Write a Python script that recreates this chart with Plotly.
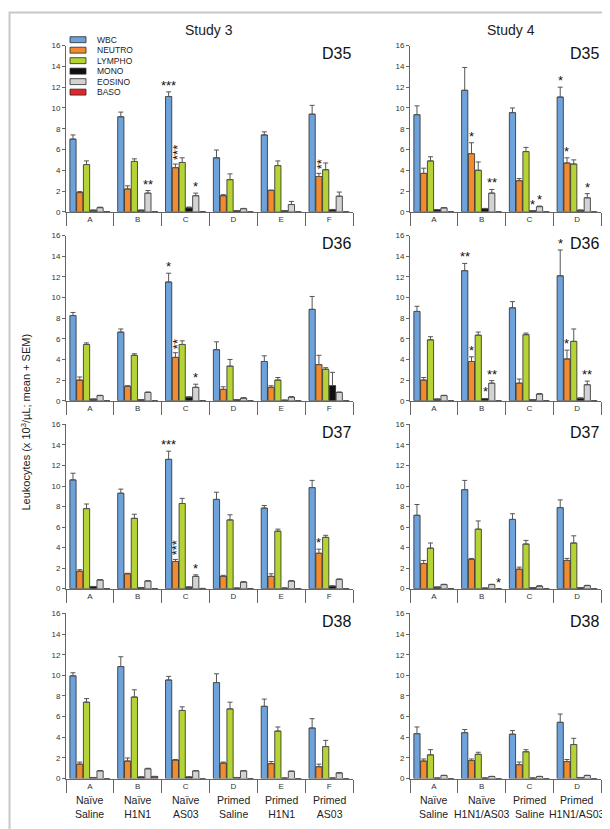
import plotly.graph_objects as go
from plotly.subplots import make_subplots

W, H = 610, 829
SERIES = ["WBC", "NEUTRO", "LYMPHO", "MONO", "EOSINO", "BASO"]
COLORS = ["#6ea2da", "#f28a2e", "#b5d334", "#111111", "#d3d3d3", "#e3262b"]
GROUPS_S3 = ["A", "B", "C", "D", "E", "F"]
GROUPS_S4 = ["A", "B", "C", "D"]
NAMES_S3 = ["Naïve<br>Saline", "Naïve<br>H1N1", "Naïve<br>AS03",
            "Primed<br>Saline", "Primed<br>H1N1", "Primed<br>AS03"]
NAMES_S4 = ["Naïve<br>Saline", "Naïve<br>H1N1/AS03", "Primed<br>Saline",
            "Primed<br>H1N1/AS03"]

# ---- Study 3 (rows: WBC, NEUTRO, LYMPHO, MONO, EOSINO, BASO) ----
S3_D35_MEAN = [[7.0, 9.15, 11.1, 5.2, 7.4, 9.4],
               [1.85, 2.2, 4.25, 1.55, 2.05, 3.4],
               [4.55, 4.85, 4.75, 3.1, 4.45, 4.05],
               [0.15, 0.15, 0.38, 0.1, 0.1, 0.2],
               [0.4, 1.8, 1.55, 0.3, 0.7, 1.5],
               [0.02, 0.02, 0.02, 0.0, 0.0, 0.0]]
S3_D35_SEM = [[0.4, 0.45, 0.45, 0.75, 0.3, 0.85],
              [0.1, 0.3, 0.35, 0.1, 0.05, 0.3],
              [0.35, 0.25, 0.45, 0.55, 0.45, 0.65],
              [0.02, 0.02, 0.08, 0.02, 0.02, 0.03],
              [0.05, 0.25, 0.25, 0.03, 0.3, 0.4],
              [0, 0, 0, 0, 0, 0]]
S3_D35_STARS = [("B", "EOSINO", "**", "h"), ("C", "WBC", "***", "h"),
                ("C", "NEUTRO", "***", "v"), ("C", "EOSINO", "*", "h"),
                ("F", "NEUTRO", "**", "v")]

S3_D36_MEAN = [[8.25, 6.65, 11.5, 4.95, 3.8, 8.85],
               [2.0, 1.4, 4.2, 1.1, 1.3, 3.5],
               [5.45, 4.4, 5.45, 3.35, 2.0, 3.05],
               [0.15, 0.1, 0.35, 0.1, 0.05, 1.47],
               [0.5, 0.8, 1.3, 0.25, 0.35, 0.8],
               [0.0, 0.0, 0.02, 0.0, 0.0, 0.0]]
S3_D36_SEM = [[0.3, 0.3, 0.85, 0.75, 0.55, 1.25],
              [0.3, 0.05, 0.45, 0.25, 0.15, 0.9],
              [0.15, 0.15, 0.35, 0.65, 0.25, 0.15],
              [0.02, 0.02, 0.03, 0.02, 0.01, 1.28],
              [0.03, 0.05, 0.3, 0.05, 0.05, 0.05],
              [0, 0, 0, 0, 0, 0]]
S3_D36_STARS = [("C", "WBC", "*", "h"), ("C", "NEUTRO", "**", "v"),
                ("C", "EOSINO", "*", "h")]

S3_D37_MEAN = [[10.6, 9.3, 12.6, 8.7, 7.85, 9.85],
               [1.7, 1.45, 2.65, 1.2, 1.2, 3.45],
               [7.8, 6.85, 8.3, 6.7, 5.6, 5.0],
               [0.2, 0.1, 0.15, 0.05, 0.05, 0.25],
               [0.85, 0.75, 1.2, 0.65, 0.75, 0.9],
               [0.0, 0.0, 0.02, 0.0, 0.0, 0.0]]
S3_D37_SEM = [[0.65, 0.4, 0.8, 0.7, 0.25, 0.7],
              [0.15, 0.05, 0.2, 0.1, 0.25, 0.4],
              [0.45, 0.4, 0.5, 0.5, 0.2, 0.2],
              [0.02, 0.02, 0.02, 0.01, 0.01, 0.03],
              [0.03, 0.03, 0.15, 0.03, 0.03, 0.05],
              [0, 0, 0, 0, 0, 0]]
S3_D37_STARS = [("C", "WBC", "***", "h"), ("C", "NEUTRO", "***", "v"),
                ("C", "EOSINO", "*", "h"), ("F", "NEUTRO", "*", "h")]

S3_D38_MEAN = [[9.95, 10.85, 9.55, 9.3, 7.0, 4.9],
               [1.4, 1.7, 1.8, 1.5, 1.45, 1.15],
               [7.4, 7.9, 6.6, 6.75, 4.6, 3.1],
               [0.1, 0.15, 0.15, 0.1, 0.05, 0.05],
               [0.75, 0.95, 0.75, 0.75, 0.7, 0.55],
               [0.0, 0.2, 0.0, 0.0, 0.0, 0.0]]
S3_D38_SEM = [[0.3, 0.95, 0.35, 0.85, 0.7, 0.9],
              [0.2, 0.3, 0.05, 0.1, 0.2, 0.25],
              [0.35, 0.7, 0.35, 0.65, 0.4, 0.6],
              [0.01, 0.02, 0.02, 0.01, 0.01, 0.01],
              [0.03, 0.05, 0.03, 0.03, 0.03, 0.03],
              [0, 0.02, 0, 0, 0, 0]]
S3_D38_STARS = []

# ---- Study 4 ----
S4_D35_MEAN = [[9.35, 11.7, 9.55, 11.05],
               [3.7, 5.6, 3.0, 4.7],
               [4.9, 4.0, 5.8, 4.6],
               [0.2, 0.3, 0.1, 0.15],
               [0.38, 1.8, 0.5, 1.35],
               [0.0, 0.0, 0.0, 0.0]]
S4_D35_SEM = [[0.85, 2.2, 0.45, 0.95],
              [0.5, 1.05, 0.2, 0.5],
              [0.4, 0.8, 0.4, 0.4],
              [0.02, 0.03, 0.02, 0.02],
              [0.03, 0.35, 0.05, 0.4],
              [0, 0, 0, 0]]
S4_D35_STARS = [("B", "NEUTRO", "*", "h"), ("B", "EOSINO", "**", "h"),
                ("C", "MONO", "*", "h"), ("C", "EOSINO", "*", "h"),
                ("D", "WBC", "*", "h"), ("D", "NEUTRO", "*", "h"),
                ("D", "EOSINO", "*", "h")]

S4_D36_MEAN = [[8.65, 12.6, 9.0, 12.1],
               [2.0, 3.8, 1.7, 4.05],
               [5.9, 6.35, 6.4, 5.75],
               [0.15, 0.2, 0.1, 0.25],
               [0.5, 1.7, 0.65, 1.55],
               [0.0, 0.0, 0.0, 0.0]]
S4_D36_SEM = [[0.5, 0.7, 0.6, 2.5],
              [0.25, 0.45, 0.4, 0.85],
              [0.3, 0.3, 0.15, 1.2],
              [0.02, 0.02, 0.01, 0.02],
              [0.03, 0.25, 0.05, 0.35],
              [0, 0, 0, 0]]
S4_D36_STARS = [("B", "WBC", "**", "h"), ("B", "NEUTRO", "*", "h"),
                ("B", "MONO", "*", "h"), ("B", "EOSINO", "**", "h"),
                ("D", "WBC", "*", "h"), ("D", "NEUTRO", "*", "h"),
                ("D", "EOSINO", "**", "h")]

S4_D37_MEAN = [[7.15, 9.65, 6.75, 7.9],
               [2.45, 2.85, 1.9, 2.75],
               [3.95, 5.8, 4.35, 4.45],
               [0.15, 0.05, 0.1, 0.1],
               [0.4, 0.4, 0.25, 0.3],
               [0.0, 0.0, 0.0, 0.0]]
S4_D37_SEM = [[1.05, 0.9, 0.55, 0.75],
              [0.3, 0.1, 0.2, 0.2],
              [0.5, 0.8, 0.35, 0.7],
              [0.01, 0.01, 0.01, 0.01],
              [0.03, 0.03, 0.03, 0.03],
              [0, 0, 0, 0]]
S4_D37_STARS = [("B", "BASO", "*", "h")]

S4_D38_MEAN = [[4.35, 4.45, 4.3, 5.45],
               [1.7, 1.75, 1.35, 1.65],
               [2.3, 2.35, 2.6, 3.3],
               [0.05, 0.05, 0.05, 0.1],
               [0.3, 0.2, 0.2, 0.3],
               [0.0, 0.0, 0.0, 0.0]]
S4_D38_SEM = [[0.65, 0.3, 0.35, 0.8],
              [0.2, 0.15, 0.25, 0.2],
              [0.5, 0.2, 0.2, 0.6],
              [0.01, 0.01, 0.01, 0.01],
              [0.02, 0.02, 0.02, 0.02],
              [0, 0, 0, 0]]
S4_D38_STARS = []

PANELS = [
    (1, 1, "D35", GROUPS_S3, S3_D35_MEAN, S3_D35_SEM, S3_D35_STARS),
    (1, 2, "D35", GROUPS_S4, S4_D35_MEAN, S4_D35_SEM, S4_D35_STARS),
    (2, 1, "D36", GROUPS_S3, S3_D36_MEAN, S3_D36_SEM, S3_D36_STARS),
    (2, 2, "D36", GROUPS_S4, S4_D36_MEAN, S4_D36_SEM, S4_D36_STARS),
    (3, 1, "D37", GROUPS_S3, S3_D37_MEAN, S3_D37_SEM, S3_D37_STARS),
    (3, 2, "D37", GROUPS_S4, S4_D37_MEAN, S4_D37_SEM, S4_D37_STARS),
    (4, 1, "D38", GROUPS_S3, S3_D38_MEAN, S3_D38_SEM, S3_D38_STARS),
    (4, 2, "D38", GROUPS_S4, S4_D38_MEAN, S4_D38_SEM, S4_D38_STARS),
]

FONT = "Arial, Liberation Sans, sans-serif"
BARGAP = 0.15


def px(x):
    return x / W


def py(y):
    return 1 - y / H


COL_X = {1: (58, 345), 2: (402, 593)}
ROW_Y = {1: (202, 34), 2: (393, 226), 3: (583, 417), 4: (775, 608)}

fig = make_subplots(rows=4, cols=2)
annotations = []
shapes = []

for (r, c, label, groups, mean, sem, stars) in PANELS:
    idx = (r - 1) * 2 + c
    n = len(groups)
    for s, name in enumerate(SERIES):
        fig.add_trace(go.Bar(
            x=groups, y=mean[s], name=name, showlegend=False,
            marker=dict(color=COLORS[s], line=dict(color="#2a2a2a", width=0.8)),
            error_y=dict(type="data", array=sem[s], arrayminus=[0] * n,
                         symmetric=False, color="#555555", thickness=1, width=2.5),
        ), row=r, col=c)
    x0, x1 = COL_X[c]
    yb, yt = ROW_Y[r]
    xa = "xaxis" if idx == 1 else f"xaxis{idx}"
    ya = "yaxis" if idx == 1 else f"yaxis{idx}"
    fig.layout[xa].update(
        domain=[px(x0), px(x1)], type="category", range=[-0.5, n - 0.5],
        tickson="boundaries", ticks="outside", ticklen=13, tickcolor="#666",
        showline=True, linecolor="#666", linewidth=1, showgrid=False,
        tickfont=dict(size=8, color="#333", family=FONT))
    fig.layout[ya].update(
        domain=[py(yb), py(yt)], range=[0, 16], dtick=2, ticks="outside",
        ticklen=3, tickcolor="#666", showline=True, linecolor="#666",
        linewidth=1, showgrid=False, zeroline=False,
        tickfont=dict(size=8, color="#333", family=FONT))
    xr = "x" if idx == 1 else f"x{idx}"
    yr = "y" if idx == 1 else f"y{idx}"
    # panel label
    annotations.append(dict(text=label, xref="paper", yref="paper",
                            x=px(x1), y=py(yt + 8), xanchor="right", yanchor="middle",
                            showarrow=False, font=dict(size=16, color="#111", family=FONT)))
    # significance stars
    slot = (1 - BARGAP) / len(SERIES)
    for (g, ser, txt, orient) in stars:
        gi = groups.index(g)
        si = SERIES.index(ser)
        xpos = gi - (1 - BARGAP) / 2 + (si + 0.5) * slot
        ytop = mean[si][gi] + sem[si][gi]
        if orient == "h":
            annotations.append(dict(text=txt, xref=xr, yref=yr, x=xpos, y=ytop,
                                    xanchor="center", yanchor="bottom", yshift=-3,
                                    showarrow=False,
                                    font=dict(size=13, color="#111", family=FONT)))
        else:
            # vertically stacked stars: one string turned upright
            annotations.append(dict(text=txt, xref=xr, yref=yr, x=xpos, y=ytop,
                                    xanchor="center", yanchor="bottom", textangle=-90,
                                    xshift=2, yshift=2, showarrow=False,
                                    font=dict(size=13, color="#111", family=FONT)))
    # group names under the bottom row
    if r == 4:
        names = NAMES_S3 if c == 1 else NAMES_S4
        for gi, nm in enumerate(names):
            annotations.append(dict(text=nm, xref=xr, yref="paper", x=gi,
                                    y=py(789), xanchor="center", yanchor="top",
                                    showarrow=False,
                                    font=dict(size=10.5, color="#222", family=FONT)))

# titles
annotations.append(dict(text="Study 3", xref="paper", yref="paper", x=px(201), y=py(18),
                        xanchor="center", yanchor="middle", showarrow=False,
                        font=dict(size=14, color="#222", family=FONT)))
annotations.append(dict(text="Study 4", xref="paper", yref="paper", x=px(503), y=py(18),
                        xanchor="center", yanchor="middle", showarrow=False,
                        font=dict(size=14, color="#222", family=FONT)))
annotations.append(dict(text="Leukocytes (x 10<sup>3</sup>/µL; mean + SEM)",
                        xref="paper", yref="paper", x=px(18), y=py(415),
                        xanchor="center", yanchor="middle", textangle=-90,
                        showarrow=False, font=dict(size=11, color="#222", family=FONT)))

# legend (drawn manually)
LEG_Y = [28, 38.6, 49.2, 59.8, 70.4, 81]
for s, name in enumerate(SERIES):
    yc = LEG_Y[s]
    shapes.append(dict(type="rect", xref="paper", yref="paper",
                       x0=px(62), x1=px(78), y0=py(yc + 3), y1=py(yc - 3),
                       fillcolor=COLORS[s], line=dict(color="#2a2a2a", width=0.8)))
    annotations.append(dict(text=name, xref="paper", yref="paper", x=px(87), y=py(yc),
                            xanchor="left", yanchor="middle", showarrow=False,
                            font=dict(size=8.5, color="#222", family=FONT)))

# outer frame
shapes.append(dict(type="rect", xref="paper", yref="paper",
                   x0=px(1.5), x1=px(607), y0=py(828), y1=py(0.5),
                   line=dict(color="#c8c8c8", width=2), fillcolor="rgba(0,0,0,0)"))

fig.update_layout(
    width=W, height=H, margin=dict(l=0, r=0, t=0, b=0),
    paper_bgcolor="white", plot_bgcolor="white",
    barmode="group", bargap=BARGAP, bargroupgap=0.08,
    annotations=annotations, shapes=shapes, showlegend=False,
    font=dict(family=FONT),
)

fig.write_html("out.html")
